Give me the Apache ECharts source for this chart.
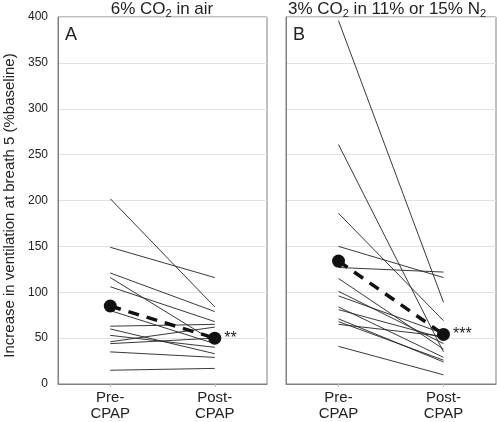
<!DOCTYPE html>
<html><head><meta charset="utf-8">
<script src="https://cdn.jsdelivr.net/npm/echarts@6/dist/echarts.min.js"></script>
<style>html,body{margin:0;padding:0;background:#fff}#c{width:497px;height:422px}</style>
</head><body><div id="c"></div>
<script>
const categories = ['Pre-\nCPAP', 'Post-\nCPAP'];
const yTicks = [0, 50, 100, 150, 200, 250, 300, 350, 400];
const aPre  = [202, 149, 121, 116, 106, 80, 63, 60, 53, 46, 44, 35, 15];
const aPost = [84, 116, 79, 46, 68, 44, 65, 33, 40, 62, 50, 29, 17];
const aMean = [85, 50];
const bPre  = [396, 261, 186, 150, 127, 115, 101, 96, 84, 81, 71, 68, 65, 41];
const bPost = [89, 35, 69, 116, 122, 38, 44, 55, 29, 50, 24, 26, 52, 10];
const bMean = [134, 54];
const sigA = '**', sigB = '***';

const chart = echarts.init(document.getElementById('c'));
const font = 'Liberation Sans, Arial, sans-serif';
function xAx(gi){return {type:'category',gridIndex:gi,data:categories,boundaryGap:true,
  axisLine:{lineStyle:{color:'#808080',width:1}},axisTick:{show:true,alignWithLabel:true,length:3,lineStyle:{color:'#bbb'}},
  axisLabel:{color:'#222',fontSize:15,fontFamily:font,lineHeight:16,margin:6}};}
function yAx(gi,showLabels){return {type:'value',gridIndex:gi,min:yTicks[0],max:yTicks[yTicks.length-1],interval:50,
  axisLine:{show:true,lineStyle:{color:'#808080'}},axisTick:{show:false},
  splitLine:{show:true,lineStyle:{color:'#e2e2e2',width:1}},
  axisLabel:{show:showLabels,color:'#222',fontSize:12,fontFamily:font,margin:10},
  name:showLabels?'Increase in ventilation at breath 5 (%baseline)':'',nameLocation:'middle',nameGap:41,
  nameTextStyle:{fontSize:15,fontFamily:font,color:'#222',padding:[0,10,0,0]}};}
const series=[];
function addSubj(pre,post,gi){pre.forEach((v,i)=>series.push({type:'line',xAxisIndex:gi,yAxisIndex:gi,data:[v,post[i]],
  symbol:'none',lineStyle:{color:'#222',width:0.9},silent:true,z:2}));}
addSubj(aPre,aPost,0);addSubj(bPre,bPost,1);
function addMean(m,gi,sig){series.push({type:'line',xAxisIndex:gi,yAxisIndex:gi,
  data:[m[0],{value:m[1],label:{show:true,formatter:sig,position:'right',distance:3,fontSize:16,color:'#222',fontFamily:font}}],
  symbol:'circle',symbolSize:13,itemStyle:{color:'#111'},lineStyle:{color:'#111',width:3.5,type:[11,8]},z:5});}
addMean(aMean,0,sigA);addMean(bMean,1,sigB);
const titleStyle={fontSize:17,fontWeight:'normal',color:'#222',fontFamily:font,
  rich:{s:{fontSize:11,padding:[8,0,0,0],color:'#222',fontFamily:font}}};
chart.setOption({
  animation:false,
  grid:[{left:58,top:17,width:209,height:370,show:true,borderColor:'#808080',borderWidth:1},
        {left:286,top:17,width:210,height:370,show:true,borderColor:'#808080',borderWidth:1}],
  xAxis:[xAx(0),xAx(1)],
  yAxis:[yAx(0,true),yAx(1,false)],
  title:[
    {text:'6% CO{s|2} in air',left:157,top:-5,textAlign:'center',textStyle:titleStyle},
    {text:'3% CO{s|2} in 11% or 15% N{s|2}',left:382,top:-5,textAlign:'center',textStyle:titleStyle},
    {text:'A',left:60,top:21,textStyle:{fontSize:18,fontWeight:'normal',color:'#222',fontFamily:font}},
    {text:'B',left:288,top:21,textStyle:{fontSize:18,fontWeight:'normal',color:'#222',fontFamily:font}}
  ],
  series:series
});
</script></body></html>
